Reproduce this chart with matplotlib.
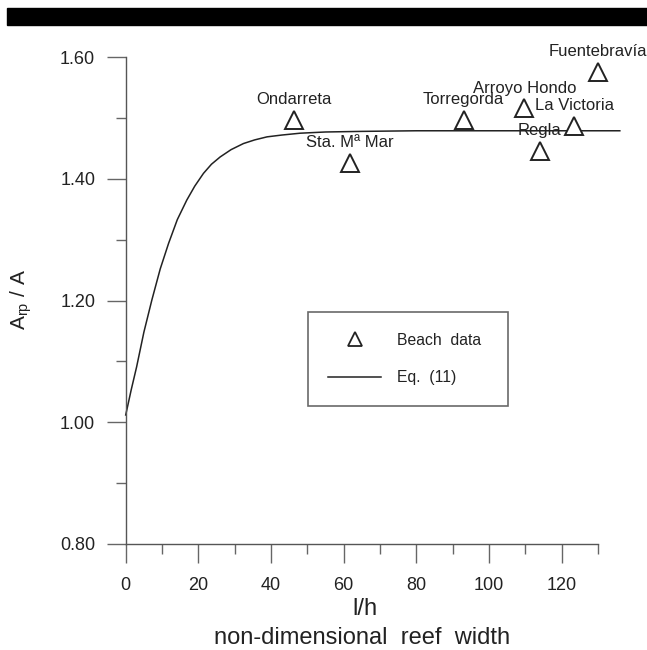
import numpy as np
import matplotlib
matplotlib.use("Agg")
import matplotlib.pyplot as plt
from matplotlib.ticker import MultipleLocator, FormatStrFormatter
from matplotlib.patches import Rectangle

plt.rcParams['font.family'] = ['Liberation Sans', 'DejaVu Sans']
plt.rcParams['mathtext.default'] = 'regular'

# beach data
beaches = ["Ondarreta", "Sta. Mª Mar", "Torregorda", "Arroyo Hondo",
           "La Victoria", "Regla", "Fuentebravía"]
beach_x = [46.2, 61.7, 93.0, 109.7, 123.5, 113.9, 129.9]
beach_y = [1.497, 1.426, 1.497, 1.516, 1.487, 1.446, 1.576]

# Eq. (11) curve
eq_x = [0, 1.5, 3.0, 5.0, 7.2, 9.5, 11.8, 14.2, 16.8, 19.0, 21.4, 23.6, 26.0,
        29.0, 32.4, 35.5, 38.9, 43.0, 48.0, 55.0, 65.0, 80.0, 100.0, 120.0, 136.0]
eq_y = [1.012, 1.053, 1.091, 1.148, 1.201, 1.252, 1.294, 1.333, 1.365, 1.388,
        1.409, 1.424, 1.436, 1.448, 1.458, 1.464, 1.469, 1.472, 1.475, 1.477,
        1.478, 1.479, 1.479, 1.479, 1.479]

W, H = 647, 650
fig = plt.figure(figsize=(W / 100, H / 100), dpi=100)

# black band at the top of the scanned page
fig.patches.append(Rectangle((0.011, 0.9615), 0.989, 0.026, transform=fig.transFigure,
                             color='black', zorder=0))

ax = fig.add_axes([0.1943, 0.1631, 0.730, 0.749])

ink = '#222222'
ax.plot(eq_x, eq_y, color=ink, lw=1.1, clip_on=False, label='Eq.  (11)', zorder=2)
ax.plot(beach_x, beach_y, linestyle='none', marker='^', ms=13, mfc='white',
        mec=ink, mew=1.4, label='Beach  data', zorder=3, clip_on=False)

for name, x, y in zip(beaches, beach_x, beach_y):
    ax.annotate(name, (x, y), xytext=(0, 14.5), textcoords='offset points',
                ha='center', va='center', fontsize=12, color=ink)

ax.set_xlim(0, 130)
ax.set_ylim(0.8, 1.6)
ax.xaxis.set_major_locator(MultipleLocator(20))
ax.xaxis.set_minor_locator(MultipleLocator(10))
ax.yaxis.set_major_locator(MultipleLocator(0.2))
ax.yaxis.set_minor_locator(MultipleLocator(0.1))
ax.yaxis.set_major_formatter(FormatStrFormatter('%.2f'))

for side in ['top', 'right']:
    ax.spines[side].set_visible(False)
for side in ['left', 'bottom']:
    ax.spines[side].set_color('#555555')
    ax.spines[side].set_linewidth(1.0)

ax.tick_params(which='major', direction='out', length=14, width=1.0, color='#666666',
               labelsize=13, labelcolor=ink)
ax.tick_params(which='minor', direction='out', length=7, width=1.0, color='#666666')
ax.tick_params(axis='x', which='major', pad=10)
ax.tick_params(axis='y', which='major', pad=8)

# axis titles placed in figure pixels
fig.text(365 / W, 1 - 609 / H, "l/h", fontsize=17, color=ink, ha='center', va='center')
fig.text(362 / W, 1 - 638 / H, "non-dimensional  reef  width", fontsize=17, color=ink,
         ha='center', va='center')
fig.text(21 / W, 1 - 300 / H, "$A_{rp}$ / A", fontsize=15, color=ink, rotation=90,
         ha='center', va='center')

leg = ax.legend(handles=ax.get_lines()[::-1], loc='center',
                bbox_to_anchor=(0.385, 0.285, 0.424, 0.19), mode='expand',
                fontsize=11.3, frameon=True, fancybox=False, numpoints=1,
                handlelength=3.4, handletextpad=1.0, labelspacing=1.45,
                borderpad=1.3, borderaxespad=0)
leg.get_frame().set_edgecolor('#444444')
leg.get_frame().set_linewidth(1.2)
leg.legend_handles[0].set_markersize(10)
leg.legend_handles[0].set_markeredgewidth(1.3)
for t in leg.get_texts():
    t.set_color(ink)

fig.savefig("out.png", dpi=100)
